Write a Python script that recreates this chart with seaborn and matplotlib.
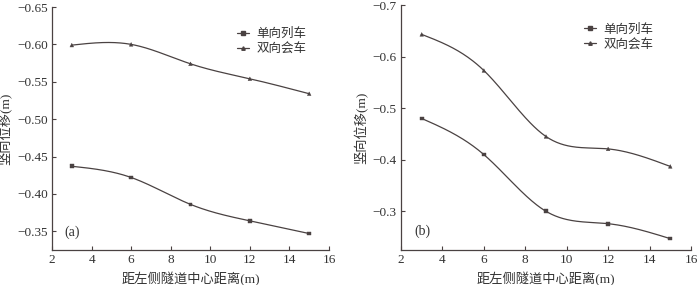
import numpy as np
import pandas as pd
import matplotlib
matplotlib.use("Agg")
import matplotlib.pyplot as plt
import seaborn as sns
from matplotlib.lines import Line2D

sns.set_style("ticks")
plt.rcParams['font.family'] = ['Liberation Serif', 'Noto Sans CJK SC']
plt.rcParams['axes.unicode_minus'] = True

distance = [3, 6, 9, 12, 15]
a_single = [-0.437, -0.422, -0.386, -0.364, -0.347]
a_double = [-0.599, -0.600, -0.574, -0.554, -0.534]
b_single = [-0.480, -0.410, -0.300, -0.276, -0.247]
b_double = [-0.643, -0.573, -0.445, -0.421, -0.387]
series_names = ["单向列车", "双向会车"]
xlabel = "距左侧隧道中心距离(m)"
ylabel = "竖向位移(m)"

line_color = "#4a4242"
text_color = "#333333"


def natural_spline(x, y, n=200):
    x = np.asarray(x, float); y = np.asarray(y, float)
    k = len(x)
    h = np.diff(x)
    A = np.zeros((k, k)); r = np.zeros(k)
    A[0, 0] = A[-1, -1] = 1
    for i in range(1, k - 1):
        A[i, i - 1] = h[i - 1]; A[i, i] = 2 * (h[i - 1] + h[i]); A[i, i + 1] = h[i]
        r[i] = 3 * ((y[i + 1] - y[i]) / h[i] - (y[i] - y[i - 1]) / h[i - 1])
    c = np.linalg.solve(A, r)
    xs = np.linspace(x[0], x[-1], n); ys = np.empty_like(xs)
    for j, xv in enumerate(xs):
        i = min(np.searchsorted(x, xv, side='right') - 1, k - 2)
        b = (y[i + 1] - y[i]) / h[i] - h[i] * (2 * c[i] + c[i + 1]) / 3
        d = (c[i + 1] - c[i]) / (3 * h[i])
        t = xv - x[i]
        ys[j] = y[i] + b * t + c[i] * t ** 2 + d * t ** 3
    return xs, ys


fig = plt.figure(figsize=(7.0, 2.85), dpi=100)
ax1 = fig.add_axes([52 / 700, 1 - 250 / 285, 277 / 700, 243 / 285])
ax2 = fig.add_axes([401 / 700, 1 - 250 / 285, 290 / 700, 245 / 285])

panels = [
    (ax1, a_single, a_double, (-0.65, -0.325), np.arange(-0.65, -0.349, 0.05), "{:.2f}", "(a)", (0.96, 0.96)),
    (ax2, b_single, b_double, (-0.70, -0.225), np.arange(-0.7, -0.299, 0.1), "{:.1f}", "(b)", (0.91, 0.97)),
]

for ax, s1, s2, ylim, yt, fmt, tag, anchor in panels:
    df = pd.DataFrame({
        "x": distance * 2,
        "y": list(s1) + list(s2),
        "s": [series_names[0]] * 5 + [series_names[1]] * 5,
    })
    for vals in (s1, s2):
        xs, ys = natural_spline(distance, vals)
        ax.plot(xs, ys, color=line_color, lw=0.9)
    sns.scatterplot(data=df, x="x", y="y", style="s",
                    markers={series_names[0]: "s", series_names[1]: "^"},
                    color=line_color, s=7, edgecolor=line_color, linewidth=0.3, ax=ax, legend=False)
    ax.set_xlim(2, 16)
    ax.set_ylim(ylim[1], ylim[0])
    ax.set_xticks([2, 4, 6, 8, 10, 12, 14, 16])
    ax.set_yticks(yt)
    ax.set_yticklabels([("−" + fmt.format(abs(v))) for v in yt])
    ax.tick_params(direction="in", length=3, width=0.8, labelsize=9.5, colors=line_color,
                   labelcolor=text_color, pad=3)
    for sp in ["top", "right"]:
        ax.spines[sp].set_visible(False)
    for sp in ["left", "bottom"]:
        ax.spines[sp].set_color(line_color)
        ax.spines[sp].set_linewidth(0.9)
    ax.set_xlabel(xlabel, fontsize=9.5, color=text_color, labelpad=4)
    ax.set_ylabel(ylabel, fontsize=9.5, color=text_color, labelpad=3)
    ax.text(0.045, 0.06, tag, transform=ax.transAxes, fontsize=10, color=text_color)
    handles = [Line2D([], [], color=line_color, lw=0.9, marker="s", markersize=2.5),
               Line2D([], [], color=line_color, lw=0.9, marker="^", markersize=2.5)]
    ax.legend(handles, series_names, loc="upper right", bbox_to_anchor=anchor, frameon=False,
              fontsize=9, handlelength=1.0, handletextpad=0.6, labelspacing=0.25,
              labelcolor=text_color)

fig.savefig("out.png", dpi=100)
